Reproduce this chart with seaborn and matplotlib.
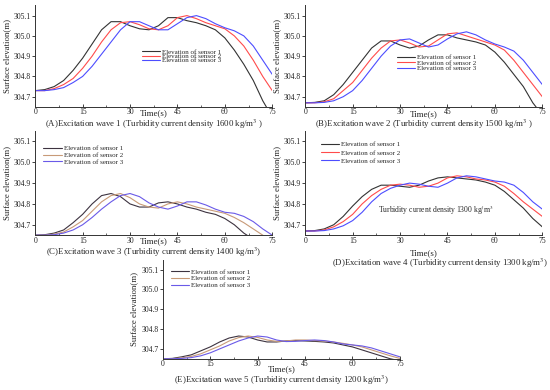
import numpy as np
import pandas as pd
import matplotlib
matplotlib.use("Agg")
import matplotlib.pyplot as plt
from matplotlib.ticker import MultipleLocator
import seaborn as sns

# time axis (s), every 3 s
time_s = list(range(0, 76, 3))
sensors = ["Elevation of sensor 1", "Elevation of sensor 2", "Elevation of sensor 3"]

# (A) wave 1, 1600 kg/m3
a_s1 = [304.73, 304.735, 304.75, 304.78, 304.83, 304.89, 304.96, 305.03, 305.07, 305.07, 305.05, 305.035, 305.03,
        305.05, 305.09, 305.09, 305.075, 305.065, 305.05, 305.03, 304.99, 304.93, 304.86, 304.78, 304.68, 304.60]
a_s2 = [304.73, 304.73, 304.74, 304.76, 304.79, 304.84, 304.90, 304.97, 305.03, 305.065, 305.07, 305.055, 305.035,
        305.03, 305.05, 305.09, 305.10, 305.085, 305.065, 305.05, 305.035, 305.00, 304.95, 304.88, 304.80, 304.73]
a_s3 = [304.73, 304.73, 304.735, 304.745, 304.77, 304.80, 304.85, 304.91, 304.97, 305.03, 305.07, 305.07, 305.05,
        305.03, 305.03, 305.06, 305.09, 305.10, 305.085, 305.06, 305.04, 305.025, 305.00, 304.95, 304.88, 304.81]

# (B) wave 2, 1500 kg/m3
b_s1 = [304.67, 304.672, 304.68, 304.71, 304.76, 304.82, 304.88, 304.94, 304.975, 304.975, 304.955, 304.94, 304.95,
        304.98, 305.005, 305.005, 304.99, 304.98, 304.97, 304.955, 304.92, 304.87, 304.81, 304.75, 304.67, 304.61]
b_s2 = [304.67, 304.67, 304.675, 304.69, 304.73, 304.77, 304.83, 304.89, 304.94, 304.975, 304.98, 304.965, 304.945,
        304.95, 304.98, 305.01, 305.015, 305.00, 304.985, 304.97, 304.955, 304.93, 304.88, 304.82, 304.76, 304.70]
b_s3 = [304.67, 304.67, 304.672, 304.68, 304.70, 304.73, 304.78, 304.84, 304.90, 304.95, 304.98, 304.985, 304.965,
        304.945, 304.955, 304.985, 305.01, 305.02, 305.005, 304.98, 304.96, 304.945, 304.925, 304.88, 304.82, 304.76]

# (C) wave 3, 1400 kg/m3
c_s1 = [304.65, 304.652, 304.66, 304.675, 304.71, 304.75, 304.80, 304.84, 304.85, 304.835, 304.80, 304.785, 304.785,
        304.805, 304.81, 304.80, 304.785, 304.775, 304.76, 304.75, 304.73, 304.70, 304.66, 304.63, 304.60, 304.57]
c_s2 = [304.65, 304.65, 304.655, 304.665, 304.69, 304.72, 304.765, 304.81, 304.84, 304.85, 304.83, 304.80, 304.785,
        304.78, 304.80, 304.81, 304.80, 304.785, 304.775, 304.765, 304.755, 304.735, 304.71, 304.68, 304.65, 304.62]
c_s3 = [304.65, 304.65, 304.652, 304.66, 304.675, 304.70, 304.735, 304.775, 304.81, 304.84, 304.85, 304.835, 304.805,
        304.785, 304.775, 304.79, 304.81, 304.81, 304.795, 304.775, 304.76, 304.755, 304.74, 304.715, 304.68, 304.65]

# (D) wave 4, 1300 kg/m3
d_s1 = [304.67, 304.672, 304.68, 304.70, 304.74, 304.79, 304.835, 304.87, 304.89, 304.89, 304.885, 304.88, 304.89,
        304.91, 304.925, 304.93, 304.925, 304.92, 304.915, 304.905, 304.89, 304.86, 304.82, 304.78, 304.73, 304.69]
d_s2 = [304.67, 304.67, 304.675, 304.69, 304.715, 304.75, 304.80, 304.84, 304.87, 304.89, 304.895, 304.89, 304.88,
        304.885, 304.90, 304.925, 304.935, 304.93, 304.92, 304.915, 304.905, 304.885, 304.85, 304.81, 304.775, 304.74]
d_s3 = [304.67, 304.67, 304.672, 304.68, 304.695, 304.72, 304.76, 304.81, 304.85, 304.875, 304.89, 304.90, 304.895,
        304.885, 304.88, 304.90, 304.925, 304.935, 304.93, 304.92, 304.91, 304.905, 304.89, 304.855, 304.81, 304.775]

# (E) wave 5, 1200 kg/m3
e_s1 = [304.65, 304.652, 304.66, 304.67, 304.69, 304.71, 304.735, 304.755, 304.765, 304.76, 304.745, 304.735, 304.735,
        304.74, 304.742, 304.74, 304.738, 304.735, 304.73, 304.72, 304.71, 304.695, 304.68, 304.665, 304.65, 304.64]
e_s2 = [304.65, 304.65, 304.655, 304.662, 304.675, 304.695, 304.715, 304.74, 304.757, 304.765, 304.758, 304.745, 304.738,
        304.74, 304.745, 304.745, 304.742, 304.74, 304.735, 304.728, 304.72, 304.71, 304.695, 304.68, 304.665, 304.652]
e_s3 = [304.65, 304.65, 304.652, 304.656, 304.665, 304.68, 304.70, 304.72, 304.74, 304.755, 304.765, 304.76, 304.745,
        304.737, 304.738, 304.742, 304.745, 304.742, 304.735, 304.725, 304.72, 304.715, 304.705, 304.69, 304.675, 304.66]

titles = [
    "(A)Excitation wave 1 (Turbidity current density 1600 kg/m$^3$ )",
    "(B)Excitation wave 2 (Turbidity current density 1500 kg/m$^3$ )",
    "(C)Excitation wave 3 (Turbidity current density 1400 kg/m$^3$)",
    "(D)Excitation wave 4 (Turbidity current density 1300 kg/m$^3$)",
    "(E)Excitation wave 5 (Turbidity current density 1200 kg/m$^3$)",
]
series = [(a_s1, a_s2, a_s3), (b_s1, b_s2, b_s3), (c_s1, c_s2, c_s3), (d_s1, d_s2, d_s3), (e_s1, e_s2, e_s3)]

sns.set_style("ticks")
plt.rcParams["font.family"] = ["Liberation Serif", "DejaVu Serif"]
plt.rcParams["mathtext.fontset"] = "stix"

red_pal = ["#333333", "#ff4b4b", "#4d4dff"]
tan_pal = ["#3d3340", "#c89a78", "#6a5ae8"]

# axes rectangles in figure fraction (left, bottom, width, height)
rects = [
    [0.064, 0.726, 0.431, 0.260],
    [0.555, 0.726, 0.431, 0.260],
    [0.064, 0.397, 0.431, 0.267],
    [0.555, 0.397, 0.431, 0.267],
    [0.296, 0.080, 0.431, 0.254],
]
# legend anchor (axes fraction) and row spacing
leg_pos = [(0.45, 0.57, -0.25), (0.385, 0.52, -0.05), (0.035, 0.86, 0.1), (0.065, 0.90, 0.35), (0.035, 0.91, 0.15)]
# xlabel y, title x, title y (axes fraction)
lab_pos = [(-0.06, 0.5, -0.17), (-0.075, 0.5, -0.17), (-0.06, 0.5, -0.16), (-0.17, 0.57, -0.27), (-0.10, 0.5, -0.22)]

fig = plt.figure(figsize=(5.5, 3.9), dpi=100)

for i in range(5):
    ax = fig.add_axes(rects[i])
    ax.patch.set_visible(False)
    s1, s2, s3 = series[i]
    df = pd.DataFrame({
        "t": time_s * 3,
        "h": s1 + s2 + s3,
        "sensor": [sensors[0]] * len(time_s) + [sensors[1]] * len(time_s) + [sensors[2]] * len(time_s),
    })
    pal = tan_pal if i in (2, 4) else red_pal
    sns.lineplot(data=df, x="t", y="h", hue="sensor", palette=pal, linewidth=0.8, ax=ax)
    ax.set_xlim(0, 75)
    ax.set_ylim(304.65, 305.15)
    ax.set_xticks([0, 15, 30, 45, 60, 75])
    ax.xaxis.set_minor_locator(MultipleLocator(7.5))
    ax.set_yticks([304.7, 304.8, 304.9, 305.0, 305.1])
    ax.set_yticklabels(["304.7", "304.8", "304.9", "305.0", "305.1"])
    ax.tick_params(axis="both", labelsize=5.5, pad=1, colors="#222222")
    ax.tick_params(axis="y", direction="out", length=2, width=0.6)
    ax.tick_params(axis="x", which="major", direction="in", length=2.5, width=0.6)
    ax.tick_params(axis="x", which="minor", direction="in", length=1.5, width=0.5)
    for sp in ["top", "right"]:
        ax.spines[sp].set_visible(False)
    for sp in ["left", "bottom"]:
        ax.spines[sp].set_linewidth(0.7)
        ax.spines[sp].set_color("#333333")
    ax.set_xlabel("")
    ax.set_ylabel("Surface elevation(m)", fontsize=6.3, labelpad=2)

    lx, ly, lsp = leg_pos[i]
    leg = ax.legend(loc="upper left", bbox_to_anchor=(lx, ly), frameon=False, fontsize=5,
                    handlelength=2.6, handletextpad=0.3, labelspacing=lsp, borderpad=0, borderaxespad=0)
    for line in leg.get_lines():
        line.set_linewidth(0.8)

    xl, tx, ty = lab_pos[i]
    ax.text(0.5, xl, "Time(s)", transform=ax.transAxes, ha="center", va="center", fontsize=6.5)
    ax.text(tx, ty, titles[i], transform=ax.transAxes, ha="center", va="center", fontsize=6.3)

    if i == 3:
        ax.text(0.305, 0.24, "Turbidity current density 1300 kg/m$^3$", transform=ax.transAxes,
                ha="left", va="center", fontsize=5.5)

fig.savefig("out.png", dpi=100)
